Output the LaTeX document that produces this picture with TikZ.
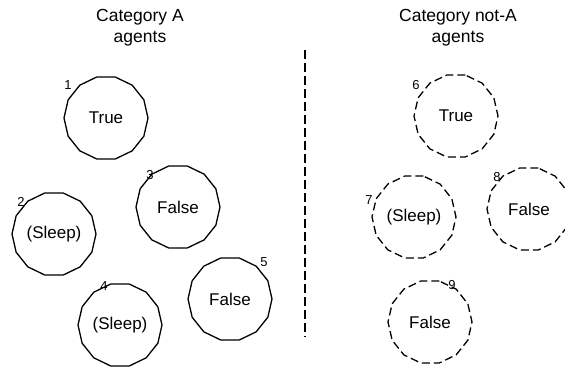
\documentclass[tikz,border=0pt]{standalone}
\usepackage{fontspec}
\setmainfont{Liberation Sans}
\usetikzlibrary{shapes.geometric}

\begin{document}
\begin{tikzpicture}[x=1pt,y=-1pt,
    agent/.style={draw,regular polygon,regular polygon sides=14,minimum size=84pt,inner sep=0pt,line width=1.3pt,font=\fontsize{17}{20}\selectfont},
    notagent/.style={agent,dash pattern=on 8pt off 4pt},
    num/.style={inner sep=0pt,font=\fontsize{13}{15}\selectfont},
    heading/.style={align=center,font=\fontsize{17.5}{21}\selectfont}]
    \useasboundingbox (0,0) rectangle (565,370);
    \node[heading] (headA) at (140,28) {Category A\\agents};
    \node[heading] (headB) at (458,28) {Category not-A\\agents};
    % category A
    \node[agent] (a1) at (106,118) {True};
    \node[agent] (a2) at (54,234) {(Sleep)};
    \node[agent] (a3) at (178,207) {False};
    \node[agent] (a4) at (120,325) {(Sleep)};
    \node[agent] (a5) at (230,299) {False};
    % category not-A
    \node[notagent] (b6) at (456,116) {True};
    \node[notagent] (b7) at (414,217) {(Sleep)};
    \node[notagent] (b8) at (529,209) {False};
    \node[notagent] (b9) at (430,322) {False};
    % numbers
    \node[num] (n1) at (68,85) {1};
    \node[num] (n2) at (21,202) {2};
    \node[num] (n3) at (150,175) {3};
    \node[num] (n4) at (104,286) {4};
    \node[num] (n5) at (264,262) {5};
    \node[num] (n6) at (416,85) {6};
    \node[num] (n7) at (369,200) {7};
    \node[num] (n8) at (497,177) {8};
    \node[num] (n9) at (452,285) {9};
    % divider
    \coordinate (top) at (305,50);
    \coordinate (bottom) at (305,337);
    \draw[line width=1.3pt,dash pattern=on 9pt off 4pt] (top) -- (bottom);
\end{tikzpicture}
\end{document}
